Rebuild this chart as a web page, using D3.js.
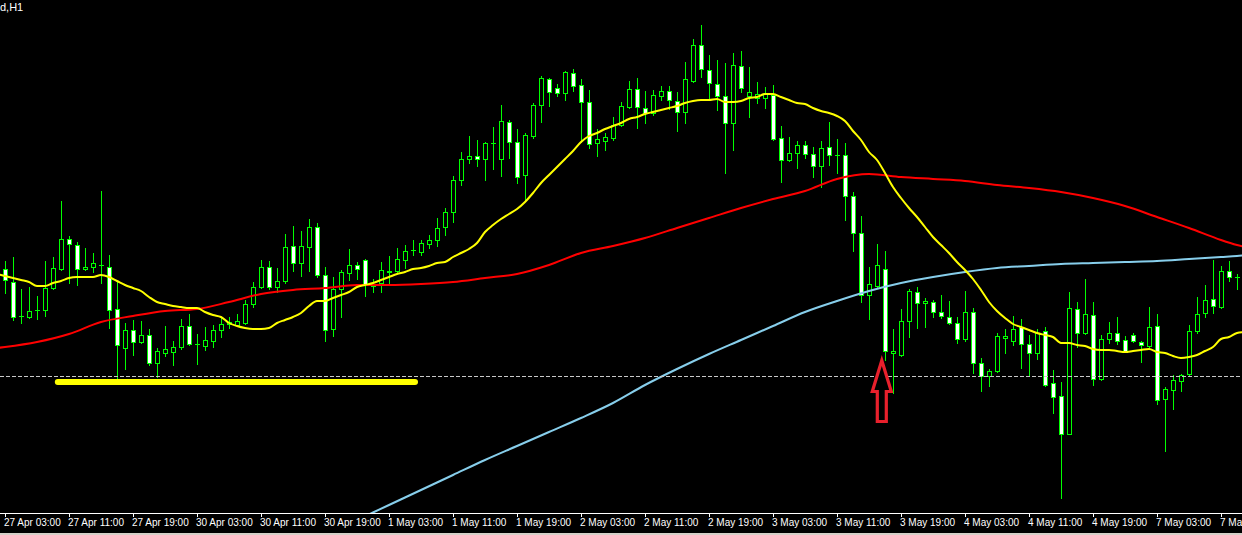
<!DOCTYPE html>
<html><head><meta charset="utf-8">
<script src="https://cdn.jsdelivr.net/npm/d3@7"></script>
<style>html,body{margin:0;padding:0;background:#000;overflow:hidden}svg{display:block}</style>
</head><body><svg id="c" width="1242" height="535"></svg>
<script>
// ---- data (hourly bars, bar 0 = 27 Apr 03:00) ----
const openP = [1.1731,1.1718,1.1684,1.1683,1.1690,1.1690,1.1712,1.1731,1.1761,1.1755,
1.1731,1.1733,1.1735,1.1733,1.1691,1.1652,1.1670,1.1658,1.1665,1.1637,
1.1647,1.1648,1.1653,1.1674,1.1656,1.1654,1.1659,1.1670,1.1676,1.1675,
1.1677,1.1696,1.1713,1.1733,1.1713,1.1719,1.1754,1.1737,1.1753,1.1773,
1.1725,1.1671,1.1711,1.1727,1.1735,1.1740,1.1714,1.1717,1.1728,1.1729,
1.1740,1.1750,1.1748,1.1756,1.1760,1.1773,1.1788,1.1820,1.1841,1.1844,
1.1841,1.1857,1.1841,1.1878,1.1858,1.1825,1.1864,1.1895,1.1921,1.1912,
1.1907,1.1927,1.1915,1.1898,1.1857,1.1859,1.1862,1.1875,1.1893,1.1911,
1.1892,1.1887,1.1904,1.1909,1.1899,1.1888,1.1919,1.1955,1.1930,1.1916,
1.1904,1.1877,1.1934,1.1904,1.1902,1.1902,1.1905,1.1862,1.1840,1.1847,
1.1855,1.1846,1.1834,1.1853,1.1845,1.1845,1.1804,1.1767,1.1705,1.1714,
1.1731,1.1647,1.1645,1.1679,1.1708,1.1697,1.1698,1.1688,1.1683,1.1677,
1.1661,1.1688,1.1637,1.1624,1.1629,1.1662,1.1659,1.1673,1.1656,1.1647,
1.1669,1.1617,1.1604,1.1566,1.1691,1.1667,1.1685,1.1621,1.1661,1.1667,
1.1660,1.1665,1.1658,1.1654,1.1674,1.1601,1.1610,1.1619,1.1626,1.1669,
1.1687,1.1701,1.1693,1.1729,1.1723];
const highP = [1.1739,1.1743,1.1711,1.1713,1.1704,1.1739,1.1743,1.1799,1.1764,1.1758,
1.1752,1.1747,1.1809,1.1745,1.1719,1.1677,1.1680,1.1679,1.1671,1.1652,
1.1674,1.1659,1.1681,1.1686,1.1666,1.1673,1.1675,1.1683,1.1683,1.1686,
1.1700,1.1718,1.1740,1.1739,1.1732,1.1766,1.1774,1.1769,1.1781,1.1777,
1.1733,1.1723,1.1730,1.1751,1.1738,1.1741,1.1721,1.1738,1.1744,1.1752,
1.1755,1.1760,1.1760,1.1765,1.1782,1.1792,1.1824,1.1848,1.1864,1.1860,
1.1858,1.1873,1.1895,1.1880,1.1871,1.1867,1.1897,1.1924,1.1922,1.1916,
1.1929,1.1931,1.1921,1.1910,1.1871,1.1867,1.1883,1.1898,1.1919,1.1922,
1.1909,1.1910,1.1914,1.1914,1.1908,1.1938,1.1961,1.1975,1.1945,1.1940,
1.1937,1.1947,1.1949,1.1933,1.1918,1.1913,1.1915,1.1874,1.1863,1.1859,
1.1859,1.1853,1.1859,1.1878,1.1861,1.1857,1.1808,1.1784,1.1733,1.1756,
1.1749,1.1671,1.1691,1.1711,1.1713,1.1702,1.1700,1.1705,1.1699,1.1683,
1.1709,1.1692,1.1642,1.1631,1.1667,1.1671,1.1684,1.1681,1.1665,1.1671,
1.1673,1.1630,1.1618,1.1708,1.1698,1.1721,1.1698,1.1665,1.1678,1.1683,
1.1664,1.1667,1.1659,1.1693,1.1686,1.1613,1.1625,1.1626,1.1675,1.1703,
1.1715,1.1740,1.1734,1.1739,1.1726];
const lowP = [1.1707,1.1680,1.1677,1.1682,1.1681,1.1684,1.1711,1.1730,1.1717,1.1715,
1.1730,1.1728,1.1717,1.1672,1.1620,1.1631,1.1645,1.1657,1.1635,1.1623,
1.1644,1.1635,1.1651,1.1655,1.1636,1.1650,1.1653,1.1663,1.1672,1.1674,
1.1676,1.1693,1.1712,1.1711,1.1708,1.1717,1.1729,1.1724,1.1729,1.1723,
1.1659,1.1664,1.1683,1.1720,1.1721,1.1704,1.1708,1.1708,1.1717,1.1727,
1.1732,1.1745,1.1745,1.1752,1.1754,1.1765,1.1778,1.1815,1.1837,1.1834,
1.1820,1.1831,1.1824,1.1842,1.1817,1.1800,1.1862,1.1878,1.1894,1.1904,
1.1900,1.1909,1.1858,1.1852,1.1844,1.1850,1.1860,1.1874,1.1892,1.1872,
1.1877,1.1885,1.1900,1.1891,1.1869,1.1877,1.1918,1.1923,1.1900,1.1890,
1.1827,1.1850,1.1908,1.1883,1.1897,1.1892,1.1860,1.1818,1.1839,1.1832,
1.1842,1.1823,1.1813,1.1835,1.1827,1.1780,1.1749,1.1698,1.1681,1.1713,
1.1640,1.1607,1.1644,1.1663,1.1672,1.1673,1.1683,1.1682,1.1676,1.1657,
1.1659,1.1627,1.1609,1.1614,1.1628,1.1647,1.1655,1.1632,1.1625,1.1641,
1.1614,1.1587,1.1502,1.1566,1.1653,1.1666,1.1615,1.1620,1.1657,1.1656,
1.1649,1.1658,1.1638,1.1653,1.1596,1.1549,1.1591,1.1609,1.1625,1.1667,
1.1683,1.1687,1.1692,1.1719,1.1711];
const closeP = [1.1720,1.1683,1.1684,1.1689,1.1690,1.1712,1.1732,1.1761,1.1756,1.1731,
1.1733,1.1737,1.1735,1.1690,1.1655,1.1670,1.1658,1.1665,1.1637,1.1649,
1.1651,1.1653,1.1674,1.1656,1.1656,1.1660,1.1670,1.1676,1.1678,1.1679,
1.1696,1.1713,1.1733,1.1713,1.1719,1.1753,1.1737,1.1754,1.1773,1.1725,
1.1670,1.1711,1.1728,1.1735,1.1731,1.1716,1.1714,1.1730,1.1729,1.1741,
1.1749,1.1750,1.1757,1.1760,1.1772,1.1788,1.1820,1.1841,1.1844,1.1841,
1.1857,1.1857,1.1879,1.1858,1.1823,1.1865,1.1895,1.1922,1.1908,1.1907,
1.1928,1.1914,1.1898,1.1856,1.1861,1.1863,1.1875,1.1894,1.1911,1.1893,
1.1887,1.1905,1.1909,1.1900,1.1888,1.1921,1.1955,1.1931,1.1917,1.1904,
1.1877,1.1935,1.1912,1.1908,1.1906,1.1907,1.1861,1.1840,1.1847,1.1855,
1.1846,1.1834,1.1852,1.1845,1.1845,1.1804,1.1767,1.1705,1.1716,1.1735,
1.1649,1.1649,1.1679,1.1709,1.1697,1.1699,1.1688,1.1684,1.1677,1.1661,
1.1688,1.1637,1.1624,1.1629,1.1664,1.1664,1.1671,1.1656,1.1647,1.1667,
1.1615,1.1603,1.1566,1.1692,1.1667,1.1686,1.1621,1.1661,1.1667,1.1659,
1.1649,1.1659,1.1655,1.1673,1.1600,1.1611,1.1620,1.1625,1.1669,1.1686,
1.1700,1.1694,1.1729,1.1723,1.1723];

// fast MA (yellow), one value per bar from bar -1 to bar 155
const maFastFirstBar = -1;
const maFast = [1.1726,
1.1724,1.1722,1.1720,1.1718,1.1714,1.1714,1.1717,1.1719,1.1722,1.1723,
1.1723,1.1723,1.1725,1.1723,1.1719,1.1715,1.1712,1.1709,1.1703,1.1698,
1.1696,1.1694,1.1693,1.1692,1.1692,1.1688,1.1685,1.1683,1.1677,1.1674,
1.1672,1.1671,1.1671,1.1672,1.1677,1.1680,1.1683,1.1687,1.1694,1.1699,
1.1699,1.1702,1.1705,1.1708,1.1713,1.1715,1.1717,1.1720,1.1723,1.1726,
1.1728,1.1731,1.1732,1.1734,1.1737,1.1738,1.1743,1.1747,1.1751,1.1757,
1.1768,1.1775,1.1781,1.1786,1.1791,1.1798,1.1807,1.1817,1.1825,1.1833,
1.1841,1.1849,1.1858,1.1864,1.1867,1.1871,1.1874,1.1877,1.1881,1.1883,
1.1886,1.1888,1.1890,1.1892,1.1894,1.1897,1.1899,1.1900,1.1900,1.1901,
1.1898,1.1898,1.1899,1.1902,1.1903,1.1906,1.1906,1.1903,1.1900,1.1897,
1.1896,1.1892,1.1889,1.1887,1.1884,1.1879,1.1869,1.1860,1.1848,1.1840,
1.1827,1.1813,1.1802,1.1792,1.1783,1.1773,1.1763,1.1755,1.1747,1.1738,
1.1730,1.1721,1.1710,1.1698,1.1689,1.1682,1.1676,1.1673,1.1670,1.1667,
1.1665,1.1663,1.1657,1.1657,1.1655,1.1654,1.1651,1.1650,1.1650,1.1649,
1.1648,1.1649,1.1650,1.1651,1.1648,1.1647,1.1644,1.1642,1.1643,1.1645,
1.1649,1.1653,1.1661,1.1663,1.1667,1.1668];

// medium MA (red) and slow MA (light blue), read every 4 bars
const maMidBars = [-1,0,4,8,12,16,20,24,28,32,36,40,44,48,52,56,60,64,68,72,76,80,84,88,92,96,100,104,108,112,116,120,124,128,132,136,140,144,148,152,154,155];
const maMid = [1.1652,1.1653,1.1658,1.1666,1.1678,1.1684,1.1689,1.1691,1.1698,1.1706,1.1710,1.1712,1.1715,1.1715,1.1716,1.1718,1.1722,1.1726,1.1735,1.1747,1.1754,1.1762,1.1772,1.1782,1.1792,1.1801,1.1809,1.1821,1.1826,1.1823,1.1821,1.1819,1.1815,1.1812,1.1808,1.1802,1.1794,1.1783,1.1772,1.1760,1.1755,1.1753];
const maSlowBars = [44,48,52,56,60,64,68,72,76,80,84,88,92,96,100,104,108,112,116,120,124,128,132,136,140,144,148,152,154,155];
const maSlow = [1.1480,1.1495,1.1510,1.1525,1.1540,1.1554,1.1568,1.1582,1.1597,1.1615,1.1631,1.1646,1.1660,1.1674,1.1688,1.1699,1.1709,1.1717,1.1723,1.1728,1.1732,1.1734,1.1736,1.1737,1.1738,1.1739,1.1741,1.1743,1.1744,1.1745];

const tickBars = [0,8,16,24,32,40,48,56,64,72,80,88,96,104,112,120,128,136,144,152];
const tickLabels = ["27 Apr 03:00","27 Apr 11:00","27 Apr 19:00","30 Apr 03:00","30 Apr 11:00","30 Apr 19:00",
"1 May 03:00","1 May 11:00","1 May 19:00","2 May 03:00","2 May 11:00","2 May 19:00",
"3 May 03:00","3 May 11:00","3 May 19:00","4 May 03:00","4 May 11:00","4 May 19:00","7 May 03:00","7 May 11:00"];

const hLinePrice = 1.1624;                        // dashed horizontal level
const supportLine = {fromBar: 6.6, toBar: 51.25, price: 1.1618};
const arrowMark = {bar: 109.6, price: 1.16395};
const symbolLabel = "d,H1";

// ---- drawing ----
const W = 1242, H = 535, plotH = 513;
const svg = d3.select("#c");
svg.append("rect").attr("width", W).attr("height", H).attr("fill", "#000");

const x = d3.scaleLinear().domain([0, 154]).range([5, 1237]);
const y = d3.scaleLinear().domain([1.1487, 1.2000]).range([plotH, 0]);

svg.append("defs").append("clipPath").attr("id", "plot")
  .append("rect").attr("x", 0).attr("y", 0).attr("width", W).attr("height", plotH);
const g = svg.append("g").attr("clip-path", "url(#plot)");

const GREEN = "#00ff00";
const bars = d3.range(openP.length).map(i => ({i, o: openP[i], h: highP[i], l: lowP[i], c: closeP[i]}));

const cg = g.append("g").attr("shape-rendering", "crispEdges");
bars.forEach(b => {
  const cx = Math.round(x(b.i));
  cg.append("line").attr("x1", cx + 0.5).attr("x2", cx + 0.5)
    .attr("y1", Math.round(y(b.h))).attr("y2", Math.round(y(b.l)) + 1)
    .attr("stroke", GREEN).attr("stroke-width", 1);
  const top = Math.round(y(Math.max(b.o, b.c)));
  const bot = Math.round(y(Math.min(b.o, b.c)));
  if (bot - top < 1) {
    cg.append("line").attr("x1", cx - 2).attr("x2", cx + 3)
      .attr("y1", top + 0.5).attr("y2", top + 0.5).attr("stroke", GREEN);
  } else {
    cg.append("rect").attr("x", cx - 1.5).attr("y", top + 0.5)
      .attr("width", 4).attr("height", bot - top)
      .attr("fill", b.c < b.o ? "#ffffff" : "#000000")
      .attr("stroke", GREEN).attr("stroke-width", 1);
  }
});

// moving averages
const lineGen = d3.line().x(d => x(d[0])).y(d => y(d[1])).curve(d3.curveMonotoneX);
const slowPts = maSlowBars.map((b, k) => [b, maSlow[k]]);
const midPts = maMidBars.map((b, k) => [b, maMid[k]]);
const fastPts = maFast.map((v, k) => [maFastFirstBar + k, v]);
g.append("path").attr("d", lineGen(slowPts)).attr("fill", "none").attr("stroke", "#87ceeb").attr("stroke-width", 2);
g.append("path").attr("d", lineGen(midPts)).attr("fill", "none").attr("stroke", "#ff0000").attr("stroke-width", 2);
g.append("path").attr("d", lineGen(fastPts)).attr("fill", "none").attr("stroke", "#ffff00").attr("stroke-width", 2);

// dashed horizontal level
g.append("line").attr("x1", 0).attr("x2", W)
  .attr("y1", Math.round(y(hLinePrice)) + 0.5).attr("y2", Math.round(y(hLinePrice)) + 0.5)
  .attr("stroke", "#c8c8c8").attr("stroke-width", 1).attr("stroke-dasharray", "4,2")
  .attr("shape-rendering", "crispEdges");

// thick yellow support line
g.append("line").attr("x1", x(supportLine.fromBar)).attr("x2", x(supportLine.toBar))
  .attr("y1", y(supportLine.price)).attr("y2", y(supportLine.price))
  .attr("stroke", "#ffff00").attr("stroke-width", 6).attr("stroke-linecap", "round");

// red arrow (outline)
const ax = x(arrowMark.bar), ay = y(arrowMark.price);
g.append("path")
  .attr("d", `M${ax},${ay} L${ax + 9.5},${ay + 31} L${ax + 4.5},${ay + 31} L${ax + 4.5},${ay + 61} L${ax - 4.5},${ay + 61} L${ax - 4.5},${ay + 31} L${ax - 9.5},${ay + 31} Z`)
  .attr("fill", "#000").attr("stroke", "#e8202c").attr("stroke-width", 3.2).attr("stroke-linejoin", "miter");

// symbol label
svg.append("text").attr("x", 0).attr("y", 11).text(symbolLabel)
  .attr("fill", "#ffffff").attr("font-family", "Liberation Sans, Arial, sans-serif").attr("font-size", 11);

// time axis
svg.append("line").attr("x1", 0).attr("x2", W).attr("y1", plotH + 0.5).attr("y2", plotH + 0.5)
  .attr("stroke", "#ffffff").attr("shape-rendering", "crispEdges");
const ax2 = svg.append("g");
tickBars.forEach((b, k) => {
  const tx = Math.round(x(b));
  ax2.append("line").attr("x1", tx + 0.5).attr("x2", tx + 0.5).attr("y1", plotH).attr("y2", plotH + 4)
    .attr("stroke", "#ffffff").attr("shape-rendering", "crispEdges");
  ax2.append("text").attr("x", tx - 1).attr("y", 526).text(tickLabels[k])
    .attr("fill", "#ffffff").attr("font-family", "Liberation Sans, Arial, sans-serif").attr("font-size", 10);
});
svg.append("rect").attr("x", 0).attr("y", 533).attr("width", W).attr("height", 2).attr("fill", "#d4d0c8");
</script>
</body></html>
